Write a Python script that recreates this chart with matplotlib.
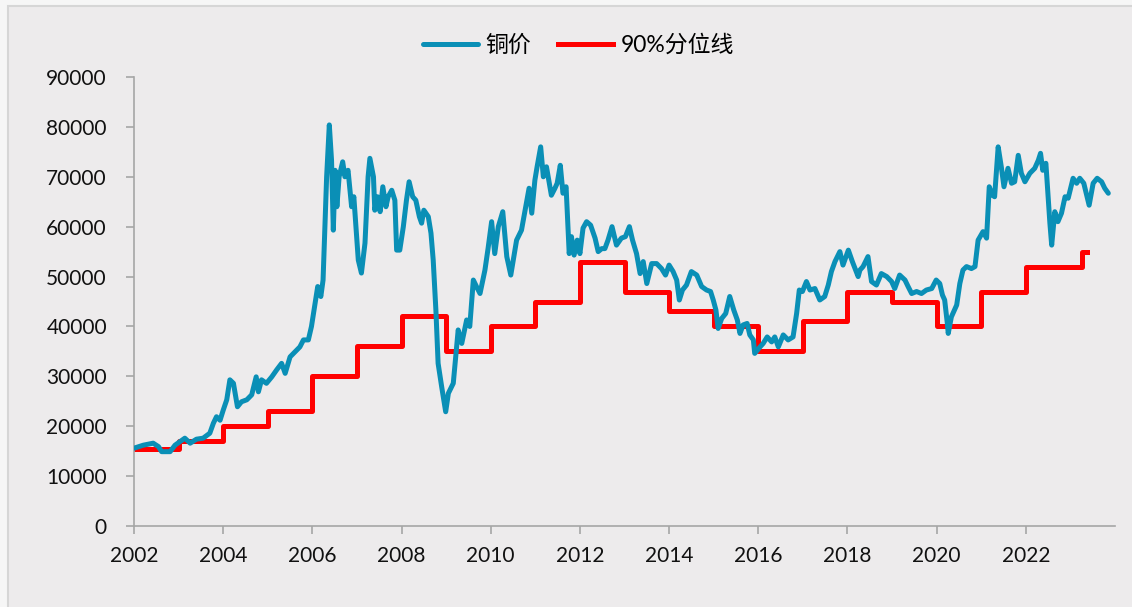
import numpy as np
import matplotlib.pyplot as plt
from matplotlib.patches import Rectangle

# copper price
cu_year = [
    2002.00, 2002.21, 2002.43, 2002.55, 2002.62, 2002.81, 2002.92, 2003.03, 2003.14, 2003.26,
    2003.40, 2003.55, 2003.70, 2003.78, 2003.85, 2003.93, 2004.00, 2004.08, 2004.15, 2004.23,
    2004.32, 2004.41, 2004.53, 2004.64, 2004.74, 2004.79, 2004.86, 2004.97, 2005.09, 2005.20,
    2005.31, 2005.39, 2005.50, 2005.61, 2005.72, 2005.80, 2005.91, 2005.98, 2006.06, 2006.12,
    2006.19, 2006.24, 2006.32, 2006.38, 2006.43, 2006.47, 2006.51, 2006.55, 2006.60, 2006.68,
    2006.73, 2006.80, 2006.88, 2006.93, 2007.03, 2007.10, 2007.18, 2007.25, 2007.29, 2007.37,
    2007.40, 2007.46, 2007.52, 2007.58, 2007.65, 2007.70, 2007.78, 2007.85, 2007.89, 2007.96,
    2008.04, 2008.11, 2008.17, 2008.25, 2008.32, 2008.40, 2008.45, 2008.50, 2008.60, 2008.66,
    2008.71, 2008.77, 2008.82, 2008.90, 2008.99, 2009.05, 2009.16, 2009.27, 2009.35, 2009.46,
    2009.53, 2009.61, 2009.68, 2009.76, 2009.87, 2009.94, 2010.02, 2010.09, 2010.17, 2010.27,
    2010.36, 2010.45, 2010.58, 2010.69, 2010.80, 2010.86, 2010.92, 2010.99, 2011.04, 2011.12,
    2011.18, 2011.25, 2011.36, 2011.44, 2011.49, 2011.56, 2011.62, 2011.69, 2011.76, 2011.81,
    2011.87, 2011.94, 2012.00, 2012.07, 2012.15, 2012.24, 2012.34, 2012.41, 2012.49, 2012.56,
    2012.63, 2012.72, 2012.82, 2012.93, 2013.02, 2013.11, 2013.18, 2013.27, 2013.35, 2013.42,
    2013.50, 2013.61, 2013.72, 2013.83, 2013.92, 2014.00, 2014.09, 2014.17, 2014.23, 2014.30,
    2014.39, 2014.50, 2014.62, 2014.73, 2014.84, 2014.93, 2014.99, 2015.05, 2015.10, 2015.18,
    2015.27, 2015.36, 2015.45, 2015.53, 2015.59, 2015.66, 2015.75, 2015.81, 2015.89, 2015.92,
    2016.04, 2016.11, 2016.20, 2016.30, 2016.37, 2016.45, 2016.56, 2016.67, 2016.78, 2016.86,
    2016.92, 2016.99, 2017.08, 2017.16, 2017.27, 2017.38, 2017.49, 2017.57, 2017.64, 2017.72,
    2017.83, 2017.90, 2018.02, 2018.11, 2018.24, 2018.28, 2018.35, 2018.46, 2018.54, 2018.65,
    2018.76, 2018.88, 2018.99, 2019.06, 2019.17, 2019.29, 2019.36, 2019.44, 2019.55, 2019.66,
    2019.77, 2019.89, 2019.99, 2020.07, 2020.13, 2020.18, 2020.24, 2020.26, 2020.33, 2020.45,
    2020.52, 2020.59, 2020.67, 2020.78, 2020.86, 2020.93, 2021.04, 2021.12, 2021.18, 2021.25,
    2021.30, 2021.38, 2021.45, 2021.51, 2021.60, 2021.68, 2021.75, 2021.83, 2021.90, 2021.98,
    2022.09, 2022.20, 2022.28, 2022.33, 2022.38, 2022.45, 2022.50, 2022.54, 2022.58, 2022.65,
    2022.72, 2022.80, 2022.88, 2022.95, 2023.06, 2023.14, 2023.21, 2023.30, 2023.42, 2023.51,
    2023.60, 2023.70, 2023.77, 2023.85,
]
cu_price = [
    15600, 16200, 16600, 15900, 14900, 14900, 16200, 16900, 17600, 16600,
    17400, 17600, 18600, 20600, 21900, 21200, 23200, 25300, 29300, 28600,
    23900, 24900, 25300, 26300, 29900, 26900, 29300, 28600, 29900, 31300,
    32600, 30600, 33900, 34900, 35900, 37300, 37300, 40000, 44600, 48000,
    46000, 49300, 70000, 80400, 73300, 59300, 71300, 64000, 70000, 73000,
    70000, 71300, 64000, 66000, 53300, 50700, 56700, 70000, 73700, 70000,
    63300, 66000, 63000, 68000, 64000, 66000, 67300, 65300, 55300, 55300,
    60000, 65300, 69000, 66000, 65300, 62000, 60700, 63300, 62000, 58700,
    53300, 43300, 32600, 27900, 22900, 26600, 28600, 39300, 36600, 41300,
    40000, 49300, 48000, 46600, 51300, 55600, 61000, 54600, 60000, 63000,
    54000, 50300, 57300, 59300, 64700, 67700, 62700, 69300, 72000, 76000,
    70000, 72000, 66300, 67700, 68700, 72300, 66700, 68000, 54600, 58000,
    54300, 57300, 54600, 59700, 61000, 60300, 57700, 55000, 55600, 55600,
    57300, 60000, 56300, 57700, 58000, 60000, 57300, 54600, 50600, 53000,
    48600, 52600, 52600, 51600, 50300, 52300, 51000, 49300, 45300, 47300,
    48300, 51000, 50300, 48000, 47300, 47000, 45300, 43300, 39600, 41600,
    42600, 46000, 43300, 41300, 38600, 40300, 40600, 38300, 37300, 34600,
    35900, 36600, 37900, 36900, 37900, 35900, 38300, 37300, 37900, 42600,
    47300, 47000, 49000, 47300, 47600, 45300, 46000, 48300, 51000, 53000,
    55000, 52300, 55300, 53000, 50000, 51300, 52000, 54000, 49000, 48300,
    50600, 50000, 49000, 47600, 50300, 49300, 48000, 46600, 47000, 46600,
    47300, 47600, 49300, 48600, 46300, 45300, 40600, 38600, 41900, 44300,
    48600, 51300, 52000, 51600, 52000, 57300, 59000, 57700, 68000, 66300,
    66000, 76000, 72000, 68000, 71700, 68700, 69000, 74300, 70700, 69000,
    70700, 71700, 73300, 74700, 71300, 72700, 66000, 60700, 56300, 63000,
    61000, 62700, 66000, 65700, 69700, 68700, 69700, 68700, 64300, 68700,
    69700, 69000, 67700, 66700,
]

# 90% quantile line, one level per year (last one from 2023.25)
q_year = [2002, 2003, 2004, 2005, 2006, 2007, 2008, 2009, 2010, 2011, 2012, 2013,
          2014, 2015, 2016, 2017, 2018, 2019, 2020, 2021, 2022, 2023.25, 2023.37]
q_value = [15500, 17000, 20000, 23000, 30000, 36000, 42000, 35000, 40000, 45000, 53000, 47000,
           43000, 40000, 35000, 41000, 47000, 45000, 40000, 47000, 52000, 55000, 55000]

years_ticks = list(range(2002, 2023, 2))

plt.rcParams['font.family'] = ['Lato', 'Noto Sans CJK SC', 'DejaVu Sans']

fig = plt.figure(figsize=(11.32, 6.07), dpi=100, facecolor='#F6F6F6')
fig.patches.append(Rectangle((8 / 1132, -0.05), 1.1, 1 - 6 / 607 + 0.05, transform=fig.transFigure,
                             facecolor='#EDEBEC', edgecolor='#D6D6D6', linewidth=1.5, zorder=-10))

ax = fig.add_axes([134 / 1132, 1 - 526 / 607, (1115 - 134) / 1132, (526 - 77) / 607])
ax.set_facecolor('none')

ax.plot(cu_year, cu_price, color='#0A8FB6', linewidth=3.6, solid_joinstyle='round',
        solid_capstyle='round', label='铜价', zorder=3)
ax.step(q_year, q_value, where='post', color='#FF0000', linewidth=3.6, label='90%分位线', zorder=2)

ax.set_xlim(2002, 2024)
ax.set_ylim(0, 90000)
ax.set_xticks(years_ticks)
ax.set_xticklabels([str(y) for y in years_ticks])
ax.set_yticks(range(0, 90001, 10000))
ax.set_yticklabels([str(v) for v in range(0, 90001, 10000)])

for s in ['top', 'right']:
    ax.spines[s].set_visible(False)
for s in ['left', 'bottom']:
    ax.spines[s].set_color('#A6A6A6')
    ax.spines[s].set_linewidth(1.2)
ax.tick_params(axis='both', colors='#A6A6A6', labelcolor='#111111', labelsize=15,
               length=5.5, width=1.2, direction='out')
ax.tick_params(axis='y', pad=14)
ax.tick_params(axis='x', pad=9)

handles, labels = ax.get_legend_handles_labels()
fig.legend(handles, labels, loc='center', bbox_to_anchor=(0.511, 1 - 45 / 607), ncol=2,
           frameon=False, fontsize=16.5, handlelength=2.4, handletextpad=0.3, columnspacing=1.2)

fig.savefig('out.png', dpi=100, facecolor=fig.get_facecolor())
